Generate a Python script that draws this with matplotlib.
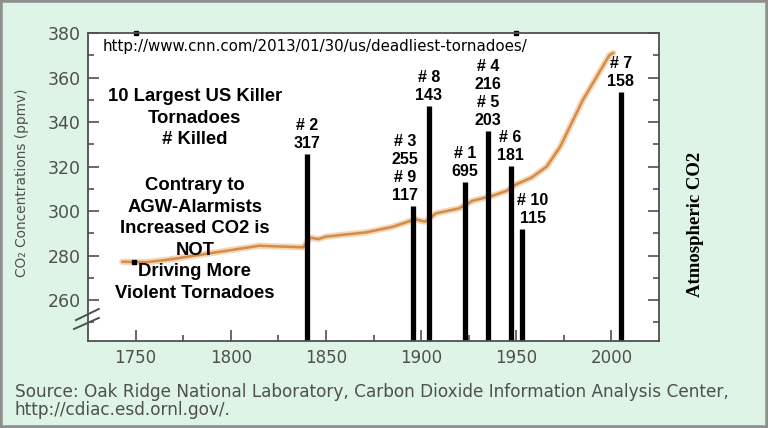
import numpy as np
import matplotlib
matplotlib.use("Agg")
import matplotlib.pyplot as plt
from matplotlib.patches import Rectangle

# CO2 curve (year, ppmv)
co2_year = [1743, 1755, 1766, 1789, 1815, 1838, 1842, 1846, 1850, 1871, 1885,
            1897, 1902, 1908, 1920, 1927, 1937, 1945, 1950, 1958, 1966, 1973,
            1985, 1999, 2001]
co2_ppmv = [277.2, 277.0, 278.0, 281.0, 284.4, 283.7, 288.0, 287.4, 288.5,
            290.4, 292.9, 296.3, 295.2, 299.0, 301.2, 304.6, 306.7, 309.1,
            312.0, 315.0, 320.0, 328.8, 349.9, 370.1, 371.0]

# tornado bars (year on the chart, height of bar in ppmv units)
tornado_year = [1840, 1896, 1904, 1923, 1935, 1947, 1953, 2005]
tornado_top = [325.6, 302.2, 347.2, 313.0, 336.0, 320.2, 291.9, 353.5]
tornado_label = ['# 2\n317', '# 3\n255\n# 9\n117', '# 8\n143', '# 1\n695',
                 '# 4\n216\n# 5\n203', '# 6\n181', '# 10\n115', '# 7\n158']

xticks = [1750, 1800, 1850, 1900, 1950, 2000]
yticks = [260, 280, 300, 320, 340, 360, 380]

grey = '#4f4f4f'
sans = ['Liberation Sans', 'DejaVu Sans']

fig = plt.figure(figsize=(7.68, 4.28), dpi=100)
fig.patch.set_facecolor('#ddf4e7')
ax = fig.add_axes([88/768, 1-341/428, 571/768, 308/428])
ax.set_facecolor('white')

ymin = 241.6
ax.set_xlim(1725, 2025)
ax.set_ylim(ymin, 380)

# co2 line with a soft glow
ax.plot(co2_year, co2_ppmv, color='#f3d6b6', lw=4.5, solid_capstyle='round')
ax.plot(co2_year, co2_ppmv, color='#d48c48', lw=1.8, solid_capstyle='round')

# tornado bars
ax.vlines(tornado_year, ymin, tornado_top, color='black', lw=3.8)
label_dx = {1: -6, 6: 8}
for i in range(len(tornado_year)):
    ax.annotate(tornado_label[i], (tornado_year[i], tornado_top[i]),
                xytext=(label_dx.get(i, 0), 2), textcoords='offset points',
                ha='center', va='bottom', fontsize=11.5, fontweight='bold',
                family=sans, linespacing=1.25)

# small black marks left over on the chart
ax.plot([1750, 1950], [380, 380], 's', color='black', ms=3.5, clip_on=False)
ax.plot([1749], [277.2], 's', color='black', ms=3.5)

# ticks
ax.set_xticks(xticks)
ax.set_xticks([1775, 1825, 1875, 1925, 1975], minor=True)
ax.set_yticks(yticks)
ax.set_yticks(np.arange(250, 380, 20), minor=True)
ax.tick_params(axis='both', which='both', direction='in', colors=grey,
               width=1.2, right=True)
ax.tick_params(axis='both', which='major', length=8)
ax.tick_params(axis='both', which='minor', length=4)
ax.tick_params(axis='x', pad=6, labelsize=12)
ax.tick_params(axis='y', pad=5, labelsize=12.5)
for lab in ax.get_xticklabels() + ax.get_yticklabels():
    lab.set_family('DejaVu Sans')
    lab.set_color(grey)
for sp in ax.spines.values():
    sp.set_color(grey)
    sp.set_linewidth(1.3)

# axis break marks
ax.plot([-0.021, 0.019], [0.068, 0.104], color=grey, lw=1.4,
        transform=ax.transAxes, clip_on=False)
ax.plot([-0.0245, 0.019], [0.039, 0.075], color=grey, lw=1.4,
        transform=ax.transAxes, clip_on=False)

# annotations
ax.text(0.026, 0.955, 'http://www.cnn.com/2013/01/30/us/deadliest-tornadoes/',
        transform=ax.transAxes, ha='left', va='center', fontsize=10.8,
        family='DejaVu Sans')
ax.text(0.187, 0.724, '10 Largest US Killer\nTornadoes\n# Killed',
        transform=ax.transAxes, ha='center', va='center', fontsize=13.3,
        fontweight='bold', family=sans, linespacing=1.35)
ax.text(0.187, 0.330,
        'Contrary to\nAGW-Alarmists\nIncreased CO2 is\nNOT\nDriving More\nViolent Tornadoes',
        transform=ax.transAxes, ha='center', va='center', fontsize=13.3,
        fontweight='bold', family=sans, linespacing=1.35)

fig.text(22/768, 1-183/428, 'CO\u2082 Concentrations (ppmv)', rotation=90,
         ha='center', va='center', fontsize=9.9, color=grey,
         family='DejaVu Sans')
fig.text(695/768, 1-224/428, 'Atmospheric CO2', rotation=90, ha='center',
         va='center', fontsize=13.5, fontweight='bold',
         family=['Liberation Serif', 'DejaVu Serif'])

fig.text(15/768, 1-401/428,
         'Source: Oak Ridge National Laboratory, Carbon Dioxide Information Analysis Center,\n'
         'http://cdiac.esd.ornl.gov/.',
         ha='left', va='center', fontsize=12.2, color=grey,
         family='DejaVu Sans', linespacing=0.95)

fig.add_artist(Rectangle((0, 0), 1, 1, transform=fig.transFigure, fill=False,
                         edgecolor='#8f8f8f', lw=4))

fig.savefig('out.png', dpi=100, facecolor=fig.get_facecolor())
